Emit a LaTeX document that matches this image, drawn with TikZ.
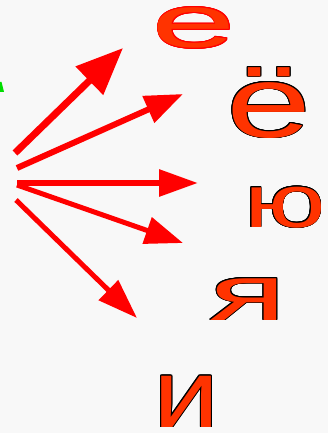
\documentclass[tikz,border=0pt]{standalone}
\usepackage{fontspec}
\setmainfont{Liberation Sans}
\usepackage{tikz}
\usetikzlibrary{
  arrows.meta,
  calc
}
\definecolor{paper}{HTML}{F8F8F8}
\definecolor{arrowred}{HTML}{FF0000}
\definecolor{letterred}{HTML}{FF3300}
\definecolor{edgegreen}{HTML}{00DD00}
\tikzset{
  letter/.style={inner sep=0pt, anchor=base, text=letterred},
  fan/.style={draw=arrowred, line width=5pt}
}
% letter with a thin outline drawn round it
\newcommand{\edged}[5]{%
  \foreach \ang in {0,22.5,...,337.5}
    \node[letter, text=#4] at ($(#1)+(\ang:0.75)$)
      {\fontsize{#3}{#3}\selectfont\scalebox{#5}[1]{#2}};
  \node[letter] at (#1)
    {\fontsize{#3}{#3}\selectfont\scalebox{#5}[1]{#2}};
}

\begin{document}
\begin{tikzpicture}[x=1pt, y=-1pt]
  \fill[paper] (0,0) rectangle (328,433);
  \useasboundingbox (0,0) rectangle (328,433);

  % cut-off green mark at the left edge
  \fill[edgegreen] (0,82) -- (1.5,82) -- (4,92) -- (0,92) -- cycle;

  % letters
  \coordinate (ie) at (194,47.5);
  \coordinate (io) at (269,137);
  \coordinate (yu) at (285,227);
  \coordinate (ya) at (248,320);
  \coordinate (ii) at (186.5,427);
  \edged{ie}{е}{74pt}{arrowred}{2.05}
  \edged{io}{ё}{102pt}{black}{1.5}
  \edged{yu}{ю}{75pt}{black}{1.45}
  \edged{ya}{я}{79pt}{black}{1.8}
  \edged{ii}{и}{97pt}{black}{1.22}

  % fan of arrows
  \coordinate (s1) at (15,153);
  \coordinate (s2) at (17,168);
  \coordinate (s3) at (17,183);
  \coordinate (s4) at (17,185);
  \coordinate (s5) at (16,200);
  \coordinate (t1) at (123,48);
  \coordinate (t2) at (183,94);
  \coordinate (t3) at (198,183);
  \coordinate (t4) at (183,243);
  \coordinate (t5) at (137,318);

  \draw[fan, line width=7pt, -{Triangle[length=47pt, width=38pt]}] (s1) -- (t1);
  \draw[fan, line width=6pt, -{Triangle[length=38pt, width=28pt]}] (s2) -- (t2);
  \draw[fan, line width=6pt, -{Triangle[length=39pt, width=26pt]}] (s3) -- (t3);
  \draw[fan, -{Triangle[length=38pt, width=27pt]}] (s4) -- (t4);
  \draw[fan, -{Triangle[length=40pt, width=27pt]}] (s5) -- (t5);
\end{tikzpicture}
\end{document}
